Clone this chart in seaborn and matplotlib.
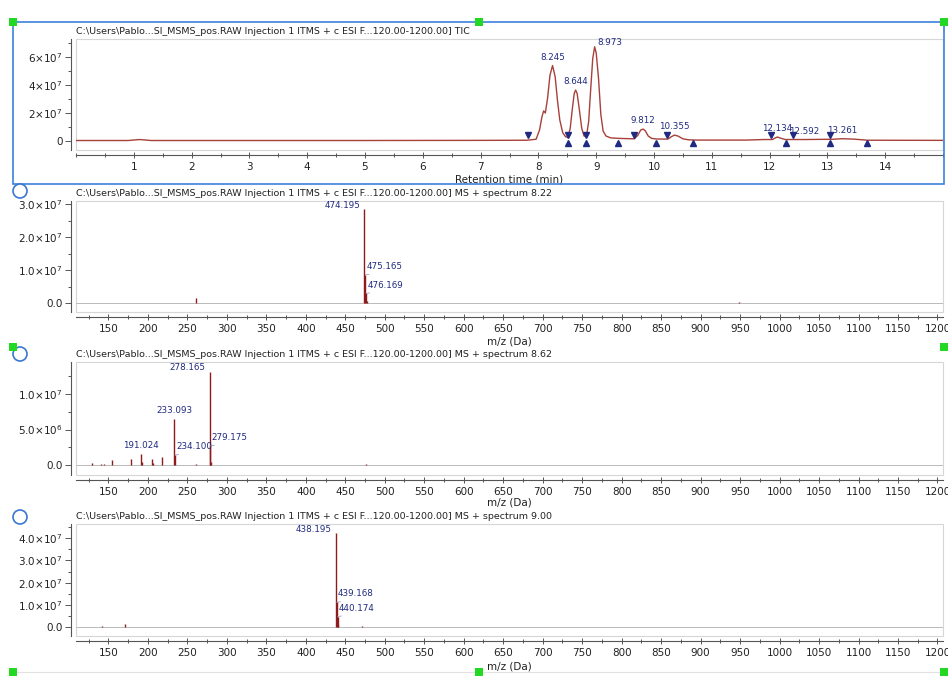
import matplotlib
matplotlib.use("Agg")
import numpy as np
import pandas as pd
import matplotlib.pyplot as plt
from matplotlib.patches import Rectangle, Ellipse
from matplotlib.lines import Line2D
from matplotlib.ticker import MultipleLocator
import seaborn as sns

# --- Data ---
W, H = 948, 685

path_head = r"C:\Users\Pablo...SI_MSMS_pos.RAW Injection 1 ITMS + c ESI F...120.00-1200.00]"
tic_title = path_head + " TIC"
spec_titles = [path_head + " MS + spectrum 8.22",
               path_head + " MS + spectrum 8.62",
               path_head + " MS + spectrum 9.00"]

# TIC chromatogram: retention time (min) vs intensity
tic_time = [0.0, 0.9, 1.1, 1.3, 3.0, 5.0, 7.0, 7.80, 7.96, 8.02, 8.06, 8.09, 8.12,
            8.16, 8.20, 8.245, 8.29, 8.33, 8.37, 8.42, 8.47, 8.51, 8.55, 8.59, 8.62,
            8.644, 8.67, 8.71, 8.75, 8.79, 8.83, 8.87, 8.90, 8.94, 8.973, 9.00, 9.04,
            9.08, 9.12, 9.17, 9.25, 9.40, 9.66, 9.72, 9.77, 9.812, 9.85, 9.90, 9.96,
            10.04, 10.24, 10.30, 10.355, 10.42, 10.50, 10.60, 10.75, 11.6, 11.9, 12.05,
            12.10, 12.134, 12.19, 12.27, 12.6, 13.1, 13.261, 13.45, 13.7, 15.0]
tic_intensity = [0.03e7, 0.03e7, 0.10e7, 0.03e7, 0.03e7, 0.03e7, 0.04e7, 0.05e7, 0.12e7,
                 0.79e7, 1.70e7, 2.15e7, 2.00e7, 3.10e7, 4.70e7, 5.40e7, 4.60e7, 2.90e7,
                 1.50e7, 0.60e7, 0.30e7, 0.25e7, 0.90e7, 2.40e7, 3.40e7, 3.64e7, 3.40e7,
                 2.20e7, 0.90e7, 0.35e7, 0.30e7, 1.40e7, 3.40e7, 5.90e7, 6.74e7, 6.30e7,
                 4.50e7, 1.90e7, 0.70e7, 0.35e7, 0.22e7, 0.18e7, 0.15e7, 0.40e7, 0.78e7,
                 0.85e7, 0.72e7, 0.35e7, 0.18e7, 0.14e7, 0.13e7, 0.30e7, 0.42e7, 0.34e7,
                 0.15e7, 0.08e7, 0.06e7, 0.06e7, 0.10e7, 0.10e7, 0.22e7, 0.28e7, 0.20e7,
                 0.10e7, 0.10e7, 0.12e7, 0.16e7, 0.13e7, 0.05e7, 0.04e7]

peak_rt = [8.245, 8.644, 8.973, 9.812, 10.355, 12.134, 12.592, 13.261]
peak_height = [5.40e7, 3.64e7, 6.74e7, 0.85e7, 0.42e7, 0.28e7, 0.11e7, 0.16e7]
peak_label_side = ["center", "center", "left", "center", "center", "center", "center", "center"]
peak_start = [7.82, 8.51, 8.83, 9.65, 10.22, 12.03, 12.40, 13.05]
peak_end = [8.51, 8.83, 9.37, 10.04, 10.68, 12.29, 13.05, 13.69]

tic_yticks = [0, 2e7, 4e7, 6e7]
tic_yticklabels = ["0", r"$2{\times}10^{7}$", r"$4{\times}10^{7}$", r"$6{\times}10^{7}$"]

# spectrum at 8.22 min
spec1_mz = [261.0, 474.195, 475.165, 476.169, 477.2, 948.4]
spec1_int = [0.15e7, 2.84e7, 0.86e7, 0.30e7, 0.06e7, 0.05e7]
spec1_label = ["", "474.195", "475.165", "476.169", "", ""]
spec1_side = ["", "right", "left", "left", "", ""]

# spectrum at 8.62 min
spec2_mz = [128.9, 140.5, 145.0, 154.9, 178.9, 191.024, 193.0, 204.9, 206.5, 218.0,
            233.093, 234.100, 261.0, 278.165, 279.175, 280.2, 476.2]
spec2_int = [0.03e7, 0.015e7, 0.015e7, 0.07e7, 0.08e7, 0.155e7, 0.05e7, 0.08e7, 0.03e7,
             0.11e7, 0.644e7, 0.14e7, 0.01e7, 1.314e7, 0.27e7, 0.04e7, 0.01e7]
spec2_label = ["", "", "", "", "", "191.024", "", "", "", "", "233.093", "234.100", "",
               "278.165", "279.175", "", ""]
spec2_side = ["", "", "", "", "", "center", "", "", "", "", "center", "left", "",
              "right", "left", "", ""]

# spectrum at 9.00 min
spec3_mz = [142.0, 171.0, 279.0, 397.0, 438.195, 439.168, 440.174, 441.2, 471.0]
spec3_int = [0.04e7, 0.13e7, 0.03e7, 0.02e7, 4.22e7, 1.12e7, 0.48e7, 0.08e7, 0.05e7]
spec3_label = ["", "", "", "", "438.195", "439.168", "440.174", "", ""]
spec3_side = ["", "", "", "", "right", "left", "left", "", ""]

mz_ticks = list(range(150, 1201, 50))
spec_yticks = [[0, 1e7, 2e7, 3e7], [0, 5e6, 1e7], [0, 1e7, 2e7, 3e7, 4e7]]
spec_yticklabels = [["0.0", r"$1.0{\times}10^{7}$", r"$2.0{\times}10^{7}$", r"$3.0{\times}10^{7}$"],
                    ["0.0", r"$5.0{\times}10^{6}$", r"$1.0{\times}10^{7}$"],
                    ["0.0", r"$1.0{\times}10^{7}$", r"$2.0{\times}10^{7}$",
                     r"$3.0{\times}10^{7}$", r"$4.0{\times}10^{7}$"]]

# --- Styling ---
sns.set_style("white")
plt.rcParams["font.family"] = ["DejaVu Sans"]
plt.rcParams["mathtext.fontset"] = "dejavusans"

LINE_RED = "#a8403a"
STEM_RED = "#8e1b1b"
NAVY = "#1f2a80"
AXIS_GREY = "#555555"

fig = plt.figure(figsize=(W / 100, H / 100), dpi=100)
fig.patch.set_facecolor("white")


def fx(x):
    return x / W


def fy(y):
    return 1 - y / H


def add_panel(top, bottom):
    return fig.add_axes([fx(76), fy(bottom), (943 - 76) / W, (bottom - top) / H])


def style_axes(ax, title, xlabel, label_y):
    for s in ax.spines.values():
        s.set_visible(False)
    ax.add_patch(Rectangle((0, 0), 1, 1, transform=ax.transAxes, fill=False,
                           edgecolor="#d6d6d6", lw=0.8, clip_on=False, zorder=0))
    for side in ["left", "bottom"]:
        sp = ax.spines[side]
        sp.set_visible(True)
        sp.set_position(("outward", 3.5))
        sp.set_color(AXIS_GREY)
        sp.set_linewidth(0.8)
    ax.tick_params(which="both", colors=AXIS_GREY, labelcolor="#222222", labelsize=7.5,
                   width=0.7, left=True, bottom=True)
    ax.tick_params(which="major", length=4, pad=2)
    ax.tick_params(which="minor", length=2.5)
    ax.tick_params(axis="x", which="both", direction="inout", pad=3)
    ax.annotate(title, xy=(0, 1), xycoords="axes fraction", xytext=(0, 2),
                textcoords="offset points", ha="left", va="bottom", fontsize=6.8,
                color="#222222")
    ax.set_xlabel(xlabel, fontsize=7.5, color="#222222")
    ax.xaxis.set_label_coords(0.5, label_y)
    ax.xaxis.label.set_va("center")
    ax.set_ylabel("")


def label_peak(ax, x, y, text, side, leader=True):
    if side == "right":
        ax.annotate(text, xy=(x, y), xytext=(-3, 3), textcoords="offset points",
                    ha="right", va="center", fontsize=6.3, color=NAVY)
    elif side == "left":
        ax.annotate(text, xy=(x, y), xytext=(1, 6), textcoords="offset points",
                    ha="left", va="center", fontsize=6.3, color=NAVY,
                    arrowprops=dict(arrowstyle="-", color="#8a8fb8", lw=0.5,
                                    shrinkA=0, shrinkB=0, relpos=(0.7, 0.0))
                    if leader else None)
    else:
        ax.annotate(text, xy=(x, y), xytext=(0, 6), textcoords="offset points",
                    ha="center", va="center", fontsize=6.3, color=NAVY)


# --- Panel 1: TIC ---
ax1 = add_panel(39, 150)
tic_df = pd.DataFrame({"rt": tic_time, "intensity": tic_intensity})
sns.lineplot(data=tic_df, x="rt", y="intensity", ax=ax1, color=LINE_RED, lw=1.0)
ax1.set_xlim(0, 15)
ax1.set_ylim(-0.65e7, 7.3e7)
ax1.set_xticks(range(1, 15))
ax1.xaxis.set_minor_locator(MultipleLocator(0.5))
ax1.set_yticks(tic_yticks)
ax1.set_yticklabels(tic_yticklabels)
ax1.yaxis.set_minor_locator(MultipleLocator(1e7))
style_axes(ax1, tic_title, "Retention time (min)", -0.27)
ax1.plot(peak_start, [0.40e7] * len(peak_start), "v", color=NAVY, ms=4.2, zorder=4)
ax1.plot(peak_end, [-0.18e7] * len(peak_end), "^", color=NAVY, ms=4.2, zorder=4)
for rt, h, side in zip(peak_rt, peak_height, peak_label_side):
    if side == "left":
        ax1.annotate(f"{rt:.3f}", xy=(rt, h), xytext=(2, 3), textcoords="offset points",
                     ha="left", va="center", fontsize=6.3, color=NAVY)
    else:
        ax1.annotate(f"{rt:.3f}", xy=(rt, h), xytext=(0, 6), textcoords="offset points",
                     ha="center", va="center", fontsize=6.3, color=NAVY)

# --- Panels 2-4: MS spectra ---
spectra = [(spec1_mz, spec1_int, spec1_label, spec1_side),
           (spec2_mz, spec2_int, spec2_label, spec2_side),
           (spec3_mz, spec3_int, spec3_label, spec3_side)]
boxes = [(200.7, 311.7, (-0.25e7, 3.1e7), 0.5e7, -0.264),
         (361.7, 475.0, (-0.14e7, 1.455e7), 2.5e6, -0.247),
         (524.0, 635.7, (-0.38e7, 4.64e7), 0.5e7, -0.28)]

for i, ((mz, inten, labels, sides), (top, bottom, ylim, yminor, lab_y)) in enumerate(zip(spectra, boxes)):
    ax = add_panel(top, bottom)
    ax.axhline(0, color="#b0b0b0", lw=0.6, zorder=1)
    ax.vlines(mz, 0, inten, color=STEM_RED, lw=1.0, zorder=2)
    ax.set_xlim(109, 1207)
    ax.set_ylim(*ylim)
    ax.set_xticks(mz_ticks)
    ax.xaxis.set_minor_locator(MultipleLocator(25))
    ax.set_yticks(spec_yticks[i])
    ax.set_yticklabels(spec_yticklabels[i])
    ax.yaxis.set_minor_locator(MultipleLocator(yminor))
    style_axes(ax, spec_titles[i], "m/z (Da)", lab_y)
    for x, y, t, s in zip(mz, inten, labels, sides):
        if t:
            label_peak(ax, x, y, t, s)

# --- Screen decorations (selection box, handles) ---
fig.add_artist(Rectangle((fx(13), fy(184)), (944 - 13) / W, (184 - 22) / H,
                         transform=fig.transFigure, fill=False, edgecolor="#3c82dc", lw=1.2))
fig.add_artist(Line2D([fx(13), fx(944)], [fy(672), fy(672)], transform=fig.transFigure,
                      color="#e2e2e2", lw=0.8))
for (x, y) in [(13, 22), (479, 22), (944, 22), (13, 347), (944, 347),
               (13, 672), (479, 672), (944, 672)]:
    fig.add_artist(Rectangle((fx(x - 4), fy(y + 4)), 8 / W, 8 / H, transform=fig.transFigure,
                             facecolor="#22d822", edgecolor="none", zorder=10))
for (x, y) in [(20, 191), (20, 354), (20, 517)]:
    fig.add_artist(Ellipse((fx(x), fy(y)), 14 / W, 14 / H, transform=fig.transFigure,
                           facecolor="white", edgecolor="#3a78d0", lw=1.2, zorder=9))

fig.savefig("out.png", dpi=100)
